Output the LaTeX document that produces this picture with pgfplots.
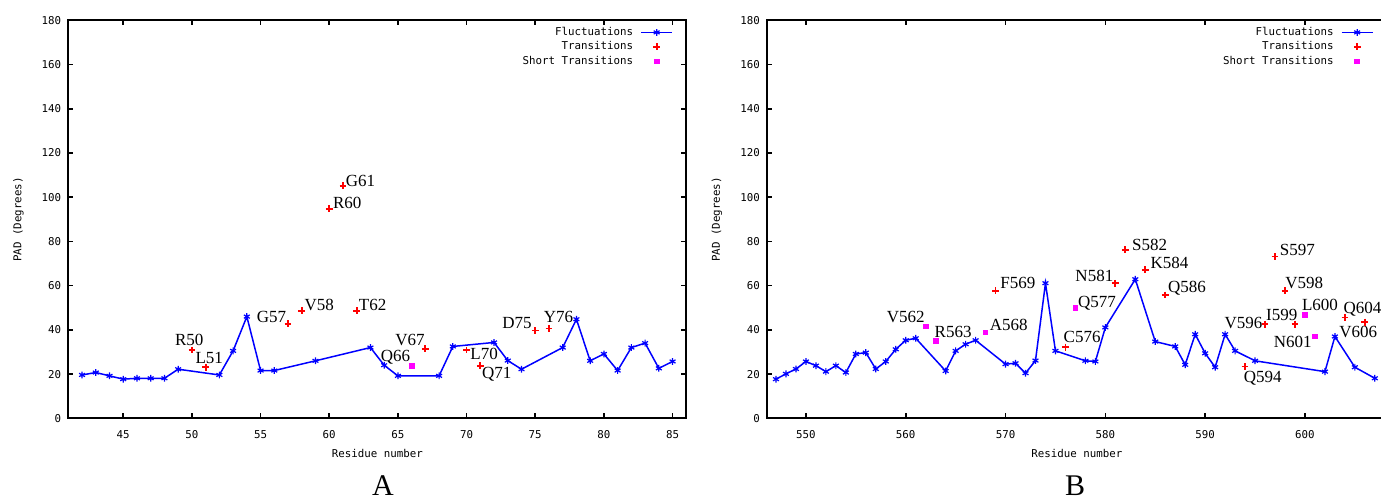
\documentclass[border=0pt]{standalone}
\usepackage{fontspec}
\setmainfont{Liberation Serif}
\newfontfamily\gp{DejaVu Sans Mono}
\newcommand\gpf{\gp\fontsize{5.4pt}{6.5pt}\selectfont}
\newcommand\lab{\fontsize{8.5pt}{10pt}\selectfont}
\usepackage{pgfplots}
\pgfplotsset{compat=1.18}
\definecolor{gpblue}{RGB}{0,0,255}
\definecolor{gpred}{RGB}{255,0,0}
\definecolor{gpmag}{RGB}{255,0,255}
\tikzset{lb/.style={font=\lab, inner sep=0pt, text depth=0pt, anchor=center}}
\pgfplotsset{
  gpstyle/.style={
    anchor=south west, scale only axis, height=199pt,
    ymin=0, ymax=180, ytick={0,20,...,180},
    tick align=inside, major tick length=2.5pt,
    tick style={black, line width=0.8pt},
    axis line style={line width=1pt},
    ticklabel style={font=\gpf},
    xticklabel style={yshift=-2.5pt},
    /pgf/number format/assume math mode=true,
    /pgf/number format/1000 sep={},
    xlabel={Residue number}, ylabel={PAD (Degrees)},
    label style={font=\gpf},
    x label style={at={(axis description cs:0.5,0)}, anchor=center, yshift=-17.5pt},
    y label style={at={(axis description cs:-0.0807,0.5)}, anchor=center},
    clip=false,
    legend plot pos=right,
    legend image code/.code={\draw[mark repeat=2,mark phase=2,##1] plot coordinates {(0pt,0pt)(7.75pt,0pt)(15.5pt,0pt)};},
    legend style={draw=none, fill=none, at={(1,1)}, anchor=north east,
      xshift=-6.5pt, yshift=-2.75pt, inner sep=0pt, font=\gpf,
      cells={anchor=east}, row sep=1pt,
      nodes={inner sep=0.6pt, text height=4pt, text depth=1pt},
      /tikz/every odd column/.append style={column sep=3pt}},
  },
  fl/.style={color=gpblue, line width=0.75pt, mark=asterisk, mark size=1.7pt, mark options={line width=0.6pt}},
  tr/.style={only marks, color=gpred, mark=+, mark size=1.7pt, mark options={line width=0.9pt, draw=gpred}},
  st/.style={only marks, color=gpmag, mark=square*, mark size=1.15pt, mark options={draw=gpmag, fill=gpmag}},
}
\begin{document}
\begin{tikzpicture}
\useasboundingbox (0,0) rectangle (690.5pt,249pt);
\begin{axis}[gpstyle, at={(34.15pt,39.85pt)}, width=309pt,
  xmin=41, xmax=86, xtick={45,50,...,85}]
\addplot[fl] coordinates {
(42,19.6) (43,20.7) (44,19.2) (45,17.7) (46,18.1) (47,18.1) (48,18.1) (49,22.2)
(52,19.6) (53,30.5) (54,46.0) (55,21.6) (56,21.6) (59,26.0) (63,32.0) (64,24.0)
(65,19.2) (68,19.2) (69,32.5) (72,34.3) (73,26.1) (74,22.2) (77,32.0) (78,44.8)
(79,26.0) (80,29.1) (81,21.6) (82,32.0) (83,34.0) (84,22.6) (85,25.7)};
\addlegendentry{Fluctuations}
\addplot[tr] coordinates {
(50,30.9) (51,23.1) (57,42.7) (58,48.6) (60,94.8) (61,105.2) (62,48.6)
(67,31.4) (70,30.9) (71,23.7) (75,39.7) (76,40.6)};
\addlegendentry{Transitions}
\addplot[st] coordinates {(66,23.8)};
\addlegendentry{Short Transitions}
\node[lb] at (axis cs:62.28,107.5) {G61};
\node[lb] at (axis cs:61.31,97.4) {R60};
\node[lb] at (axis cs:59.27,51.3) {V58};
\node[lb] at (axis cs:63.16,51.3) {T62};
\node[lb] at (axis cs:55.80,46.0) {G57};
\node[lb] at (axis cs:49.81,35.5) {R50};
\node[lb] at (axis cs:51.26,27.2) {L51};
\node[lb] at (axis cs:64.83,28.2) {Q66};
\node[lb] at (axis cs:65.88,35.5) {V67};
\node[lb] at (axis cs:71.28,29.0) {L70};
\node[lb] at (axis cs:72.19,20.7) {Q71};
\node[lb] at (axis cs:73.67,43.0) {D75};
\node[lb] at (axis cs:76.69,45.7) {Y76};
\end{axis}
\begin{axis}[gpstyle, at={(383.5pt,39.85pt)}, width=309.9pt,
  xmin=546.1, xmax=608.2, xtick={550,560,...,600}]
\addplot[fl] coordinates {
(547,17.7) (548,20.1) (549,22.3) (550,25.7) (551,23.8) (552,21.1) (553,23.8)
(554,20.7) (555,29.1) (556,29.7) (557,22.3) (558,25.7) (559,31.2) (560,35.3)
(561,36.2) (564,21.4) (565,30.5) (566,33.5) (567,35.3) (570,24.5) (571,24.9)
(572,20.4) (573,26.1) (574,61.1) (575,30.5) (578,26.0) (579,25.7) (580,41.1)
(583,62.9) (585,34.7) (587,32.5) (588,24.2) (589,38.0) (590,29.4) (591,23.1)
(592,38.0) (593,30.5) (595,26.0) (602,21.1) (603,37.0) (605,23.1) (607,18.1)};
\addlegendentry{Fluctuations}
\addplot[tr] coordinates {
(569,57.7) (576,32.2) (581,61.1) (582,76.2) (584,67.2) (586,55.8) (594,23.4)
(596,42.6) (597,73.2) (598,57.7) (599,42.6) (604,45.6) (606,43.5)};
\addlegendentry{Transitions}
\addplot[st] coordinates {
(562,41.5) (563,35.0) (568,38.9) (577,49.8) (600,46.8) (601,37.0)};
\addlegendentry{Short Transitions}
\node[lb] at (axis cs:560.0,46.0) {V562};
\node[lb] at (axis cs:564.75,39.2) {R563};
\node[lb] at (axis cs:570.33,42.3) {A568};
\node[lb] at (axis cs:571.24,61.1) {F569};
\node[lb] at (axis cs:577.67,36.7) {C576};
\node[lb] at (axis cs:579.17,52.8) {Q577};
\node[lb] at (axis cs:578.9,64.5) {N581};
\node[lb] at (axis cs:584.43,78.5) {S582};
\node[lb] at (axis cs:586.43,70.2) {K584};
\node[lb] at (axis cs:588.17,59.6) {Q586};
\node[lb] at (axis cs:593.83,43.0) {V596};
\node[lb] at (axis cs:597.67,46.8) {I599};
\node[lb] at (axis cs:599.23,76.2) {S597};
\node[lb] at (axis cs:599.93,61.1) {V598};
\node[lb] at (axis cs:601.5,51.3) {L600};
\node[lb] at (axis cs:598.77,34.7) {N601};
\node[lb] at (axis cs:595.77,18.9) {Q594};
\node[lb] at (axis cs:605.77,50.1) {Q604};
\node[lb] at (axis cs:605.33,39.2) {V606};
\end{axis}
\node[font=\fontsize{15pt}{18pt}\selectfont, anchor=base, inner sep=0pt] at (191.5pt,1.2pt) {A};
\node[font=\fontsize{15pt}{18pt}\selectfont, anchor=base, inner sep=0pt] at (537.5pt,1.2pt) {B};
\end{tikzpicture}
\end{document}
